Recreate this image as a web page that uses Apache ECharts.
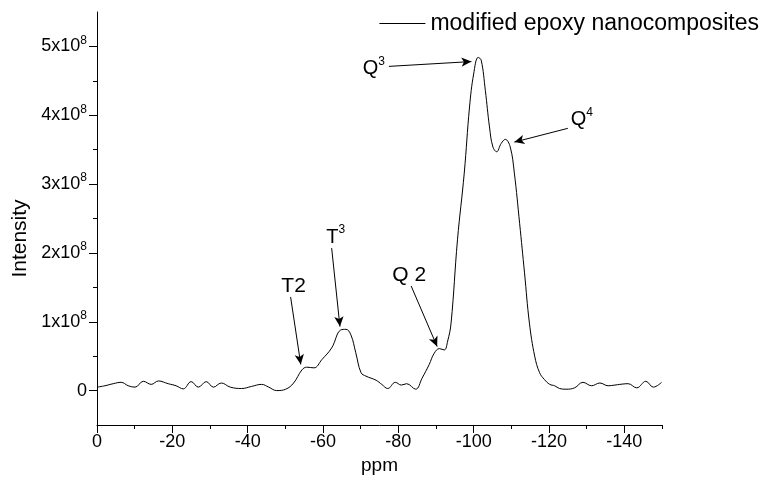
<!DOCTYPE html>
<html>
<head>
<meta charset="utf-8">
<script src="https://cdn.jsdelivr.net/npm/echarts@6/dist/echarts.min.js"></script>
<style>
html, body { margin: 0; padding: 0; background: #fff; }
#main { width: 769px; height: 490px; }
</style>
</head>
<body>
<div id="main"></div>
<script>
// 29Si NMR 谱线数据 (强度单位 1x10^8)
var ppm = [ 0, -2.1, -4.3, -6.4, -8.3, -10.1, -12.3, -14.4, -16.3, -18.9, -21.0, -22.9, -25.0, -26.9, -29.0, -30.9, -33.0, -35.4, -38.4, -41.0,
	-43.7, -45.6, -47.7, -50.1, -52.2, -54.4, -55.7, -57.6, -59.7, -62.3, -64.7, -66.1, -67.4, -68.7, -70.1, -71.4, -74.1, -75.6, -77.2, -79.2,
	-80.8, -82.2, -84.6, -86.3, -88.2, -89.5, -90.9, -92.2, -93.1, -94.0, -95.7, -97.5, -98.9, -100.0, -101.2, -102.0, -103.1, -104.2, -105.1, -106.1,
	-107.3, -108.4, -109.7, -110.8, -112.2, -113.5, -114.8, -116.2, -117.5, -118.8, -120.2, -121.5, -122.8, -124.5, -126.8, -129.0, -131.3, -133.5, -135.7, -137.5,
	-138.8, -141.0, -143.3, -145.7, -147.7, -149.9 ];
var intensity = [ 0.05, 0.07, 0.10, 0.12, 0.07, 0.05, 0.135, 0.09, 0.14, 0.10, 0.07, 0.025, 0.13, 0.05, 0.13, 0.05, 0.11, 0.05, 0.03, 0.06,
	0.09, 0.05, 0.0, 0.02, 0.11, 0.30, 0.34, 0.33, 0.45, 0.62, 0.88, 0.89, 0.81, 0.55, 0.26, 0.21, 0.15, 0.09, 0.03, 0.12,
	0.08, 0.10, 0.02, 0.18, 0.38, 0.54, 0.61, 0.59, 0.72, 0.98, 2.19, 3.16, 4.12, 4.60, 4.84, 4.80, 4.36, 3.83, 3.54, 3.47,
	3.59, 3.65, 3.54, 3.16, 2.43, 1.71, 0.98, 0.50, 0.26, 0.16, 0.09, 0.07, 0.03, 0.02, 0.04, 0.12, 0.07, 0.11, 0.07, 0.08,
	0.09, 0.10, 0.04, 0.135, 0.05, 0.12 ];
var seriesName = 'modified epoxy nanocomposites';

// 刻度
var xMajorTicks = [ 0, -20, -40, -60, -80, -100, -120, -140 ];
var xMinorTicks = [ -10, -30, -50, -70, -90, -110, -130, -150 ];
var yMajorTicks = [ 0, 1, 2, 3, 4, 5 ];
var yMinorTicks = [ 0.5, 1.5, 2.5, 3.5, 4.5 ];

// 标注: 文字位置 + 箭头起止 (数据坐标)
var annoLabels = [ 'Q{s|3}', 'Q{s|4}', 'T{s|3}', '{m|T2}', '{m|Q 2}' ];
var annoTextAt = [ [ -73.5, 4.68 ], [ -128.7, 3.94 ], [ -63.4, 2.23 ], [ -52.2, 1.52 ], [ -82.9, 1.68 ] ];
var arrowFrom = [ [ -77.5, 4.71 ], [ -125.0, 3.81 ], [ -62.3, 2.07 ], [ -51.4, 1.36 ], [ -83.4, 1.52 ] ];
var arrowTo = [ [ -99.4, 4.78 ], [ -110.8, 3.61 ], [ -64.5, 0.93 ], [ -54.1, 0.38 ], [ -90.3, 0.64 ] ];

var font = 'Liberation Sans, Arial, sans-serif';

var lineData = [];
ppm.forEach(function(item, index) {
	lineData.push([ item, intensity[index] ]);
});

var arrowData = [];
arrowFrom.forEach(function(item, index) {
	arrowData.push([ { coord : item }, { coord : arrowTo[index] } ]);
});

var textData = [];
annoTextAt.forEach(function(item, index) {
	textData.push({
		coord : item,
		label : { formatter : annoLabels[index] }
	});
});

var myChart = echarts.init(document.getElementById('main'));
var option = {
	backgroundColor : '#fff',
	animation : false,
	textStyle : { fontFamily : font, color : '#000' },
	legend : {
		right : 5,
		top : 7,
		itemWidth : 46,
		itemHeight : 12,
		itemGap : 6,
		selectedMode : false,
		itemStyle : { opacity : 0, color : 'rgba(0,0,0,0)', borderWidth : 0 },
		lineStyle : { color : '#000', width : 1 },
		textStyle : { fontFamily : font, fontSize : 23, color : '#000' },
		data : [ seriesName ]
	},
	grid : {
		left : 97,
		right : 107,
		top : 12,
		bottom : 65
	},
	xAxis : [
		{
			type : 'value',
			min : -150,
			max : 0,
			inverse : true,
			name : 'ppm',
			nameLocation : 'middle',
			nameGap : 31,
			nameTextStyle : { fontFamily : font, fontSize : 19, color : '#000' },
			axisLine : { onZero : false, lineStyle : { color : '#000', width : 1 } },
			axisTick : { show : true, customValues : xMajorTicks, length : 8, lineStyle : { color : '#000' } },
			axisLabel : { customValues : xMajorTicks, fontSize : 18, color : '#000', margin : 8 },
			splitLine : { show : false }
		},
		{
			type : 'value',
			min : -150,
			max : 0,
			inverse : true,
			position : 'bottom',
			axisLine : { show : false, onZero : false },
			axisTick : { show : true, customValues : xMinorTicks, length : 4, lineStyle : { color : '#000' } },
			axisLabel : { show : false },
			splitLine : { show : false }
		}
	],
	yAxis : [
		{
			type : 'value',
			min : -0.5,
			max : 5.5,
			name : 'Intensity',
			nameLocation : 'middle',
			nameGap : 62,
			nameTextStyle : { fontFamily : font, fontSize : 21, color : '#000', padding : [ 0, 40, 0, 0 ] },
			axisLine : { onZero : false, lineStyle : { color : '#000', width : 1 } },
			axisTick : { show : true, customValues : yMajorTicks, length : 8, lineStyle : { color : '#000' } },
			axisLabel : {
				customValues : yMajorTicks,
				margin : 10,
				formatter : function(v) {
					if (v === 0) return '{b|0}';
					return '{b|' + v + 'x10}{s|8}';
				},
				rich : {
					b : { fontSize : 18, lineHeight : 24, color : '#000' },
					s : { fontSize : 12, lineHeight : 10, verticalAlign : 'top', color : '#000' }
				}
			},
			splitLine : { show : false }
		},
		{
			type : 'value',
			min : -0.5,
			max : 5.5,
			position : 'left',
			axisLine : { show : false, onZero : false },
			axisTick : { show : true, customValues : yMinorTicks, length : 4, lineStyle : { color : '#000' } },
			axisLabel : { show : false },
			splitLine : { show : false }
		}
	],
	series : [
		{
			name : seriesName,
			type : 'line',
			xAxisIndex : 0,
			yAxisIndex : 0,
			symbol : 'none',
			smooth : 0.4,
			lineStyle : { color : '#000', width : 1 },
			itemStyle : { color : '#000' },
			data : lineData,
			markLine : {
				silent : true,
				symbol : [ 'none', 'arrow' ],
				symbolSize : [ 7, 10 ],
				precision : 2,
				label : { show : false },
				lineStyle : { color : '#000', width : 1, type : 'solid' },
				emphasis : { disabled : true },
				data : arrowData
			},
			markPoint : {
				silent : true,
				symbol : 'circle',
				symbolSize : 1,
				itemStyle : { color : 'rgba(0,0,0,0)' },
				label : {
					show : true,
					position : 'inside',
					fontFamily : font,
					fontSize : 20,
					lineHeight : 26,
					color : '#000',
					rich : {
						m : { fontSize : 21, lineHeight : 26, color : '#000' },
						s : { fontSize : 12, lineHeight : 12, verticalAlign : 'top', color : '#000' }
					}
				},
				data : textData
			}
		}
	]
};
myChart.setOption(option, true);
</script>
</body>
</html>
